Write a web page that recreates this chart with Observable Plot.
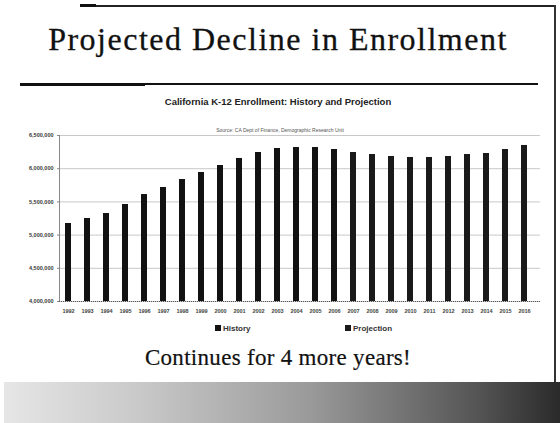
<!DOCTYPE html>
<html>
<head>
<meta charset="utf-8">
<script src="https://cdn.jsdelivr.net/npm/d3@7"></script>
<script src="https://cdn.jsdelivr.net/npm/@observablehq/plot@0.6"></script>
<style>
  html, body { margin: 0; padding: 0; background: #fff; }
  #slide { position: relative; width: 560px; height: 423px; overflow: hidden; background: #fff; }
  .abs { position: absolute; }
  #title { left: 0; width: 556px; top: 21px; text-align: center; font-family: "Liberation Serif", serif; font-size: 32px; color: #111; letter-spacing: 1.5px; white-space: nowrap; -webkit-text-stroke: 0.3px #111; }
  #ctitle { left: 0; width: 556px; top: 96px; text-align: center; font-family: "Liberation Sans", Arial, sans-serif; font-weight: bold; font-size: 9.5px; color: #222; }
  #source { left: 200px; width: 160px; top: 127px; text-align: center; font-family: "Liberation Sans", Arial, sans-serif; font-size: 5px; color: #555; }
  #chart { left: 0; top: 108px; }
  #legend { top: 324px; left: 0; width: 560px; font-family: "Liberation Sans", Arial, sans-serif; font-weight: bold; font-size: 8px; color: #333; }
  .li { position: absolute; white-space: nowrap; }
  .sw { display: inline-block; width: 6px; height: 6px; background: #111; margin-right: 2px; vertical-align: 0px; }
  #caption { left: 0; width: 556px; top: 345px; text-align: center; font-family: "Liberation Serif", serif; font-size: 23px; color: #111; letter-spacing: 0.3px; -webkit-text-stroke: 0.2px #111; }
  #banner { left: 4px; top: 382px; width: 556px; height: 41px; background: linear-gradient(90deg, #e6e6e6 0%, #c8c8c8 25%, #9a9a9a 55%, #555 85%, #2a2a2a 100%); }
</style>
</head>
<body>
<div id="slide">
  <div class="abs" style="left:80px;top:5px;width:476px;height:1.5px;background:#222"></div>
  <div class="abs" style="left:80px;top:4px;width:16px;height:3px;background:#111"></div>
  <div class="abs" style="left:554px;top:5px;width:1.5px;height:378px;background:#333"></div>
  <div id="title" class="abs">Projected Decline in Enrollment</div>
  <div class="abs" style="left:20px;top:83px;width:518px;height:1.5px;background:#111"></div>
  <div class="abs" style="left:20px;top:82.5px;width:125px;height:3px;background:#111"></div>
  <div id="ctitle" class="abs">California K-12 Enrollment: History and Projection</div>
  <div id="chart" class="abs"></div>
  <div id="source" class="abs">Source: CA Dept of Finance, Demographic Research Unit</div>
  <div id="legend" class="abs"></div>
  <div id="caption" class="abs">Continues for 4 more years!</div>
  <div id="banner" class="abs"></div>
</div>
<script>
const years = ["1992","1993","1994","1995","1996","1997","1998","1999","2000","2001","2002","2003","2004","2005","2006","2007","2008","2009","2010","2011","2012","2013","2014","2015","2016"];
const enrollment = [5175000,5250000,5325000,5461000,5611000,5717000,5837000,5943000,6048000,6154000,6244000,6304000,6319000,6319000,6289000,6244000,6214000,6184000,6169000,6169000,6184000,6214000,6229000,6289000,6350000];
const lastHistoryYear = "2006";
const seriesNames = ["History", "Projection"];
const seriesColors = ["#121212", "#1a1a1a"];
const yTicks = [4000000, 4500000, 5000000, 5500000, 6000000, 6500000];

const data = years.map((y, i) => ({year: y, value: enrollment[i], type: y <= lastHistoryYear ? seriesNames[0] : seriesNames[1]}));

const chart = Plot.plot({
  width: 560,
  height: 215,
  marginTop: 27,
  marginBottom: 22,
  marginLeft: 59,
  marginRight: 20,
  style: {background: "transparent", fontFamily: "Liberation Sans, Arial, sans-serif"},
  x: {type: "band", domain: years, paddingInner: 0.7, paddingOuter: 0.41, align: 0.33, label: null},
  y: {domain: [yTicks[0], yTicks[yTicks.length - 1]], label: null},
  color: {domain: seriesNames, range: seriesColors},
  marks: [
    Plot.gridY({ticks: yTicks, stroke: "#888", strokeOpacity: 0.45}),
    Plot.frame({anchor: "left", stroke: "#888"}),
    Plot.ruleY([yTicks[0]], {stroke: "#555", strokeDasharray: "1,1"}),
    Plot.barY(data, {x: "year", y1: yTicks[0], y2: "value", fill: "type"}),
    Plot.axisY({ticks: yTicks, tickFormat: d3.format(","), fontSize: 5.5, fontWeight: "bold", tickSize: 2, tickPadding: 4, stroke: "#888", fill: "#333"}),
    Plot.axisX({tickSize: 0, tickPadding: 8, fontSize: 5.5, fontWeight: "bold", fill: "#444"})
  ]
});
document.getElementById("chart").appendChild(chart);

const legend = document.getElementById("legend");
const legendX = [215, 345];
seriesNames.forEach((name, i) => {
  const d = document.createElement("div");
  d.className = "li";
  d.style.left = legendX[i] + "px";
  d.innerHTML = `<span class="sw" style="background:${seriesColors[i]}"></span>${name}`;
  legend.appendChild(d);
});
</script>
</body>
</html>
